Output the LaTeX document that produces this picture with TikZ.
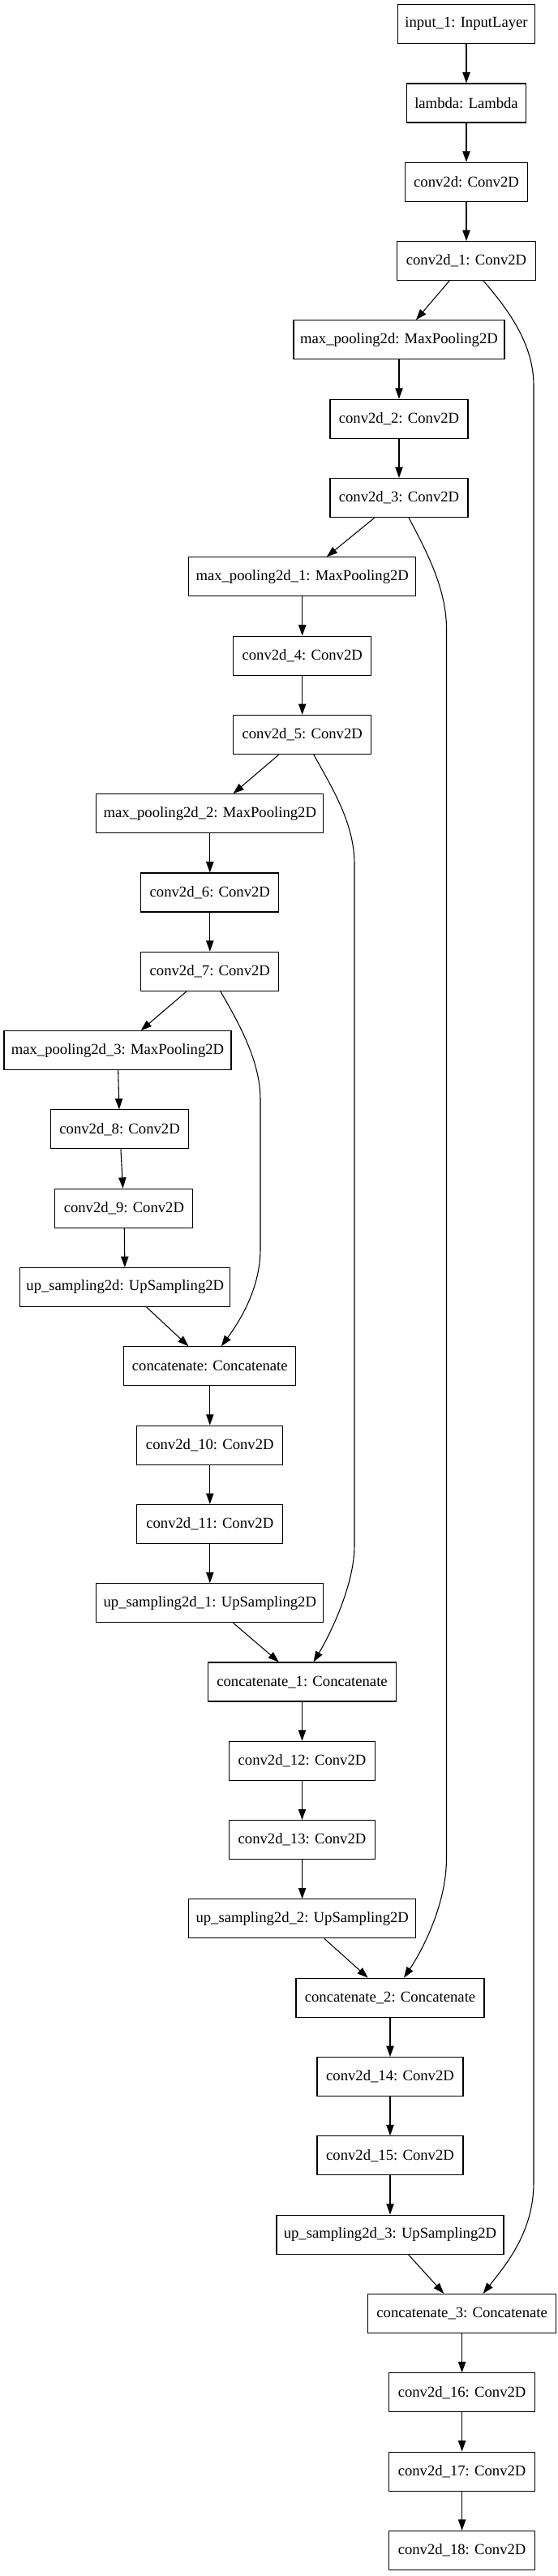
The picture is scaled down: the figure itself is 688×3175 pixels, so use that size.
\documentclass[tikz,border=0pt]{standalone}
\usepackage{fontspec}
\setmainfont{Liberation Serif}
\usetikzlibrary{arrows.meta}
\begin{document}
\begin{tikzpicture}[x=0.75pt,y=-0.75pt,
  lay/.style={draw=black, line width=0.8pt, minimum height=36pt, minimum width=#1*0.75pt, inner sep=0pt,
    font=\fontsize{14pt}{16pt}\selectfont},
  edge/.style={line width=0.8pt, -{Triangle[length=10pt,width=7pt]}}]
\useasboundingbox (0,0) rectangle (688,3175);
\fill[white] (0,0) rectangle (688,3175);
% nodes
\node[lay=169] (in) at (575,29.7) {input\_1: InputLayer};
\node[lay=147] (lam) at (575,127) {lambda: Lambda};
\node[lay=151] (c0) at (575,224.3) {conv2d: Conv2D};
\node[lay=171] (c1) at (575,321.6) {conv2d\_1: Conv2D};
\node[lay=260] (mp0) at (492,418.9) {max\_pooling2d: MaxPooling2D};
\node[lay=170] (c2) at (492,516.2) {conv2d\_2: Conv2D};
\node[lay=170] (c3) at (492,613.5) {conv2d\_3: Conv2D};
\node[lay=280] (mp1) at (372.7,710.8) {max\_pooling2d\_1: MaxPooling2D};
\node[lay=170] (c4) at (372.7,808.1) {conv2d\_4: Conv2D};
\node[lay=170] (c5) at (372.7,905.4) {conv2d\_5: Conv2D};
\node[lay=280] (mp2) at (258.8,1002.7) {max\_pooling2d\_2: MaxPooling2D};
\node[lay=170] (c6) at (258.8,1100) {conv2d\_6: Conv2D};
\node[lay=170] (c7) at (258.8,1197.3) {conv2d\_7: Conv2D};
\node[lay=280] (mp3) at (145,1294.6) {max\_pooling2d\_3: MaxPooling2D};
\node[lay=170] (c8) at (147.6,1391.9) {conv2d\_8: Conv2D};
\node[lay=170] (c9) at (152.9,1489.2) {conv2d\_9: Conv2D};
\node[lay=259] (up0) at (154.3,1586.5) {up\_sampling2d: UpSampling2D};
\node[lay=212] (cat0) at (258.8,1683.8) {concatenate: Concatenate};
\node[lay=180] (c10) at (258.8,1781.1) {conv2d\_10: Conv2D};
\node[lay=180] (c11) at (258.8,1878.4) {conv2d\_11: Conv2D};
\node[lay=280] (up1) at (258.8,1975.7) {up\_sampling2d\_1: UpSampling2D};
\node[lay=232] (cat1) at (372.5,2073) {concatenate\_1: Concatenate};
\node[lay=180] (c12) at (372.5,2170.3) {conv2d\_12: Conv2D};
\node[lay=180] (c13) at (372.5,2267.6) {conv2d\_13: Conv2D};
\node[lay=280] (up2) at (372.7,2364.9) {up\_sampling2d\_2: UpSampling2D};
\node[lay=232] (cat2) at (481,2462.2) {concatenate\_2: Concatenate};
\node[lay=180] (c14) at (481,2559.5) {conv2d\_14: Conv2D};
\node[lay=180] (c15) at (481,2656.8) {conv2d\_15: Conv2D};
\node[lay=280] (up3) at (481,2754.1) {up\_sampling2d\_3: UpSampling2D};
\node[lay=232] (cat3) at (569.6,2851.4) {concatenate\_3: Concatenate};
\node[lay=180] (c16) at (569.6,2948.7) {conv2d\_16: Conv2D};
\node[lay=180] (c17) at (569.6,3046) {conv2d\_17: Conv2D};
\node[lay=180] (c18) at (569.6,3143.3) {conv2d\_18: Conv2D};
% straight edges
\foreach \a/\b in {in/lam,lam/c0,c0/c1,c1/mp0,mp0/c2,c2/c3,c3/mp1,mp1/c4,c4/c5,c5/mp2,mp2/c6,c6/c7,
  c7/mp3,mp3/c8,c8/c9,c9/up0,up0/cat0,cat0/c10,c10/c11,c11/up1,up1/cat1,cat1/c12,c12/c13,c13/up2,
  up2/cat2,cat2/c14,c14/c15,c15/up3,up3/cat3,cat3/c16,c16/c17,c17/c18}
  \draw[edge] (\a) -- (\b);
% skip connections
\draw[edge] ([xshift=15.75pt]c1.south) .. controls (628,383) and (658,425) .. (658,475)
  -- (658,2690) .. controls (658,2750) and (625,2790) .. ([xshift=19.5pt]cat3.north);
\draw[edge] ([xshift=9pt]c3.south) .. controls (525,678) and (550.5,725) .. (550.5,775)
  -- (550.5,2290) .. controls (550.5,2350) and (518,2408) .. ([xshift=12.75pt]cat2.north);
\draw[edge] ([xshift=10.5pt]c5.south) .. controls (410,972) and (437,1015) .. (437,1065)
  -- (437,1905) .. controls (437,1955) and (405,2018) .. ([xshift=10.5pt]cat1.north);
\draw[edge] ([xshift=9.75pt]c7.south) .. controls (297,1265) and (321,1310) .. (321,1355)
  -- (321,1540) .. controls (321,1590) and (293,1632) .. ([xshift=10.5pt]cat0.north);
\end{tikzpicture}
\end{document}
